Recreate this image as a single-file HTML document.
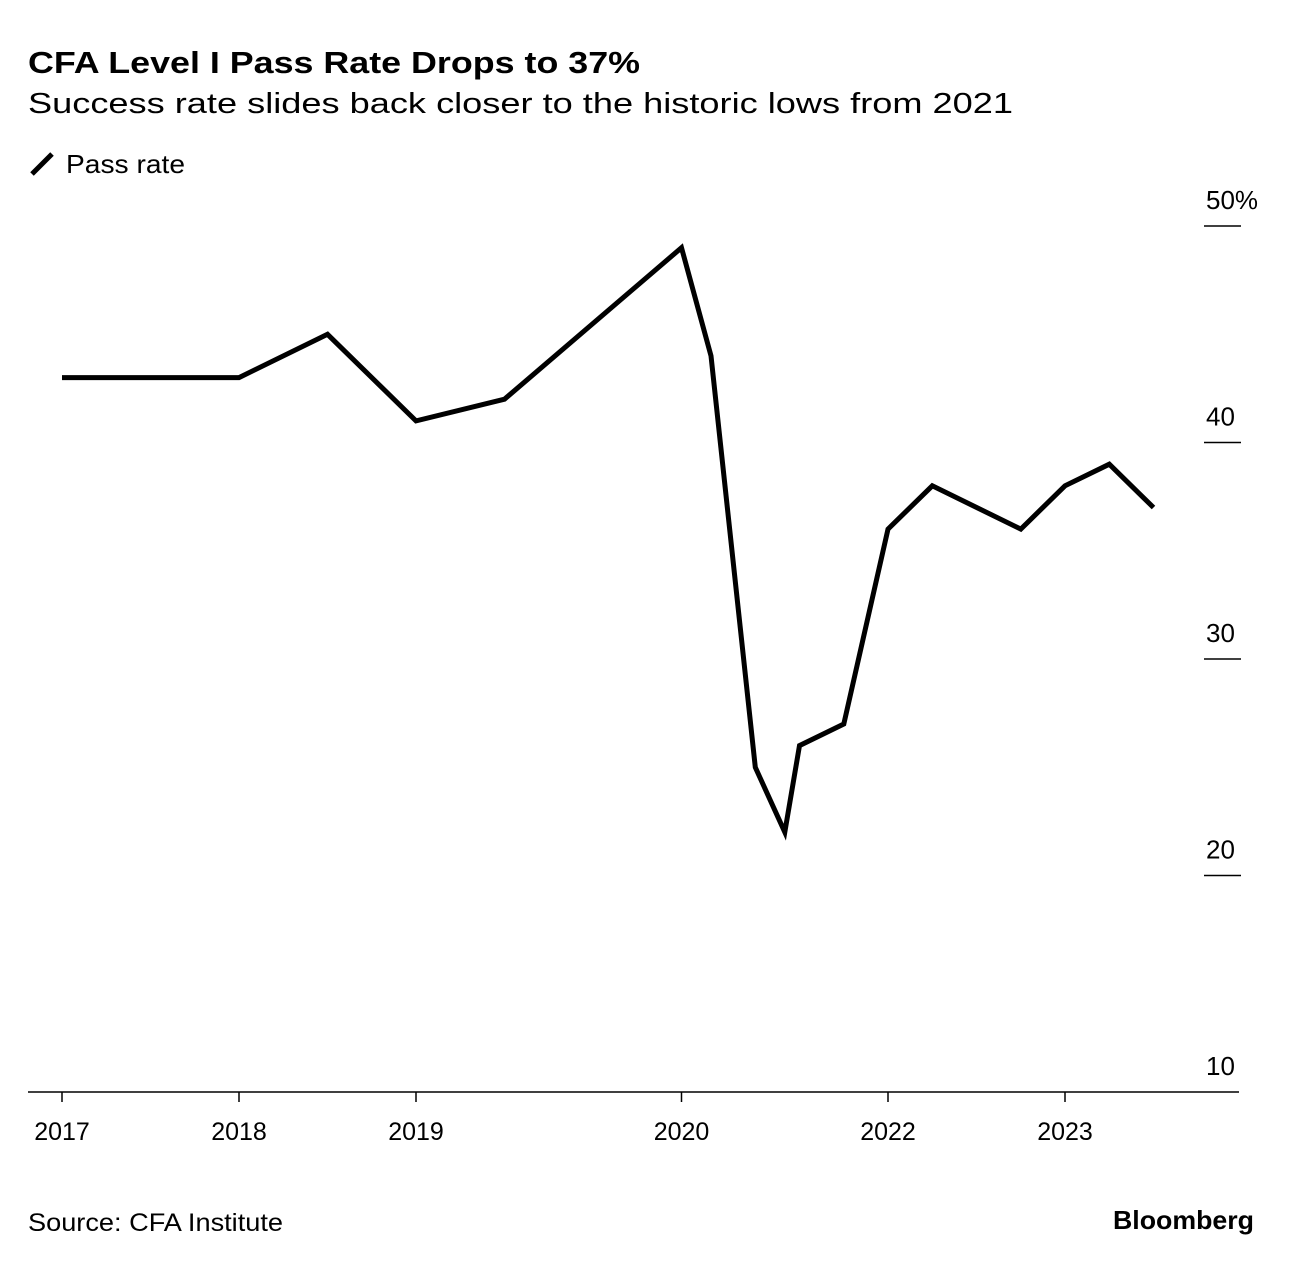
<!DOCTYPE html>
<html><head><meta charset="utf-8">
<style>
body{margin:0;background:#fff;}
svg text{font-family:"Liberation Sans",sans-serif;fill:#000;}
</style></head>
<body>
<svg width="1293" height="1264" xmlns="http://www.w3.org/2000/svg">
<text x="28" y="73" font-size="31" font-weight="bold" textLength="612" lengthAdjust="spacingAndGlyphs">CFA Level I Pass Rate Drops to 37%</text>
<text x="28" y="113" font-size="29" textLength="985" lengthAdjust="spacingAndGlyphs">Success rate slides back closer to the historic lows from 2021</text>
<g>
<line x1="32" y1="174" x2="52" y2="154" stroke="#000" stroke-width="5"/>
<text x="66" y="173" font-size="26" textLength="119" lengthAdjust="spacingAndGlyphs">Pass rate</text>
</g>
<g id="yaxis"></g>
<g id="xaxis"></g>
<g id="plot"></g>
<text x="28" y="1231" font-size="25" textLength="255" lengthAdjust="spacingAndGlyphs">Source: CFA Institute</text>
<text x="1113" y="1229" font-size="26" font-weight="bold" textLength="141" lengthAdjust="spacingAndGlyphs">Bloomberg</text>
</svg>
<script>
// x values: months since 2017 tick
const months = [0,12,18,24,30,42,44,47,49,50,53,56,59,65,68,71,74];
const passRate = [43,43,45,41,42,49,44,25,22,26,27,36,38,36,38,39,37];
const xTickMonths = [0,12,24,42,56,68];
const xTickLabels = ["2017","2018","2019","2020","2022","2023"];
const yTicks = [10,20,30,40,50];
const yTickLabels = ["10","20","30","40","50%"];

const NS="http://www.w3.org/2000/svg";
function xs(m){return 62 + m*14.75;}
function ys(v){return 1092 - (v-10)*21.65;}
function mk(tag,attrs,parent){const e=document.createElementNS(NS,tag);for(const k in attrs)e.setAttribute(k,attrs[k]);parent.appendChild(e);return e;}

const ya=document.getElementById('yaxis');
yTicks.forEach((v,i)=>{
  if(v!==10){
    const l=mk('line',{x1:1204,x2:1241,y1:ys(v),y2:ys(v),stroke:'#000','stroke-width':1.5},ya);
    
    
  }
  const t=mk('text',{x:1206,y:ys(v)-17,'font-size':26},ya);
  
  
  t.textContent=yTickLabels[i];
});

const xa=document.getElementById('xaxis');
const axis=mk('line',{x1:28,x2:1239,y1:1092,y2:1092,stroke:'#000','stroke-width':1.5},xa);


xTickMonths.forEach((m,i)=>{
  const l=mk('line',{x1:xs(m),x2:xs(m),y1:1092,y2:1102,stroke:'#000','stroke-width':1.5},xa);
  
  
  const t=mk('text',{x:xs(m),y:1140,'font-size':25,'text-anchor':'middle'},xa);
  
  
  t.textContent=xTickLabels[i];
});

const plot=document.getElementById('plot');
const d=months.map((m,i)=>(i?'L':'M')+xs(m).toFixed(1)+','+ys(passRate[i]).toFixed(1)).join(' ');
const p=mk('path',{d:d,fill:'none',stroke:'#000','stroke-width':5,'stroke-linejoin':'miter'},plot);


</script>
</body></html>
